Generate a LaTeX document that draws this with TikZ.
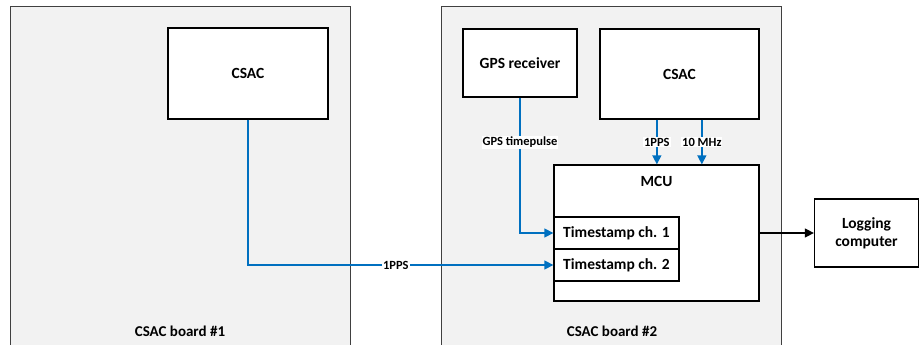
\documentclass[tikz,border=0pt]{standalone}
\usepackage{fontspec}
\setmainfont{Carlito}
\usetikzlibrary{arrows.meta,calc}
\definecolor{sigblue}{HTML}{0070C0}
\definecolor{boardfill}{HTML}{F2F2F2}
\definecolor{boardline}{HTML}{404040}
\tikzset{
  board/.style={draw=boardline, line width=0.9pt, fill=boardfill, inner sep=0pt},
  block/.style={draw=black, line width=1.3pt, fill=white, inner sep=0pt, align=center,
    font=\bfseries\fontsize{15.5}{18}\selectfont},
  caption/.style={inner sep=0pt, font=\bfseries\fontsize{15}{17}\selectfont},
  tag/.style={fill=white, inner sep=1pt, font=\bfseries\fontsize{12.5}{14}\selectfont},
  signal/.style={draw=sigblue, line width=1.4pt, -{Triangle[length=9pt,width=9pt]}, color=sigblue},
  dataflow/.style={draw=black, line width=1.3pt, -{Triangle[length=9pt,width=9pt]}},
}
\begin{document}
\begin{tikzpicture}[x=1pt,y=-1pt]
\useasboundingbox (0,0) rectangle (919,345);

% boards
\node[board, minimum width=340pt, minimum height=356pt] (board1) at (180,184) {};
\node[board, minimum width=340pt, minimum height=356pt] (board2) at (611,184) {};
\node[caption] (cap1) at (180,331) {CSAC board \#1};
\node[caption] (cap2) at (612,331) {CSAC board \#2};

% blocks on board 1
\node[block, minimum width=160pt, minimum height=91pt] (csacA) at (248,73.5) {CSAC};

% blocks on board 2
\node[block, minimum width=114pt, minimum height=68pt] (gps) at (520,63) {GPS receiver};
\node[block, minimum width=159pt, minimum height=90pt] (csacB) at (679.5,74) {CSAC};
\node[block, minimum width=205pt, minimum height=136pt] (mcu) at (656.5,233) {};
\node[caption, anchor=center, font=\bfseries\fontsize{15.5}{18}\selectfont] (mculabel) at (656.5,181) {MCU};
\node[block, minimum width=125pt, minimum height=32pt] (ts1) at (616.5,233) {Timestamp ch. 1};
\node[block, minimum width=125pt, minimum height=32pt] (ts2) at (616.5,265) {Timestamp ch. 2};

% external computer
\node[block, minimum width=104pt, minimum height=68pt] (log) at (866.5,233) {Logging\\computer};

% signals
\draw[signal] (csacA.south) |- (ts2.west)
  node[tag, pos=0.742, text=black] {1PPS};
\draw[signal] (gps.south) |- (ts1.west)
  node[tag, pos=0.165, text=black] {GPS timepulse};
\draw[signal] ([xshift=57.5pt]csacB.south west) -- ([xshift=57.5pt]csacB.south west |- mcu.north)
  node[tag, midway, text=black] {1PPS};
\draw[signal] ([xshift=102.5pt]csacB.south west) -- ([xshift=102.5pt]csacB.south west |- mcu.north)
  node[tag, midway, text=black] {10 MHz};

% data out
\draw[dataflow] (mcu.east |- log.west) -- (log.west);
\end{tikzpicture}
\end{document}
